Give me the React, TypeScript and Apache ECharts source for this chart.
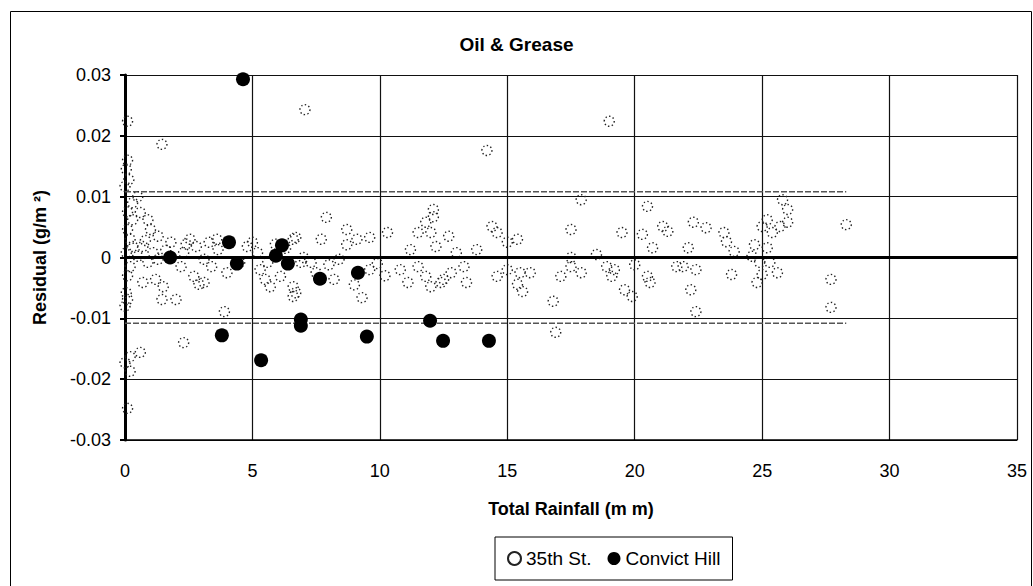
import React, { useEffect, useRef } from "react";
import * as echarts from "echarts";

const xTicks = [0, 5, 10, 15, 20, 25, 30, 35];
const yTickLabels = ["-0.03", "-0.02", "-0.01", "0", "0.01", "0.02", "0.03"];

const st35: [number, number][] = [
  [0.1, 0.0224], [0.1, 0.016], [0.05, 0.0145], [0.15, 0.0128], [0.0, 0.0117], [0.3, 0.009], [0.5, 0.01],
  [0.1, 0.0075], [0.3, 0.0062], [0.1, 0.0046], [0.2, 0.003], [0.3, 0.0018], [0.05, 0.0008], [0.2, -0.0015],
  [0.1, -0.003], [0.05, -0.0058], [0.1, -0.0069], [0.0, -0.008], [0.2, -0.0163], [0.6, -0.0156], [0.0, -0.0173],
  [0.2, -0.0187], [0.1, -0.0248],
  [0.6, 0.0074], [0.9, 0.0062], [1.0, 0.0046], [1.3, 0.0035], [0.7, 0.0018], [1.1, 0.0008], [0.5, 0.0002],
  [0.9, -0.0008], [1.3, -0.0003], [0.7, -0.0041], [1.5, -0.0048], [1.45, -0.0069], [2.0, -0.0069], [1.45, 0.0186],
  [1.2, -0.0036], [0.8, 0.0028], [1.6, 0.0012], [1.8, 0.0025],
  [2.55, 0.003], [2.3, 0.0008], [2.2, -0.0015], [2.8, 0.0018], [3.1, -0.0003], [2.7, -0.0031], [3.1, -0.0041],
  [3.3, 0.0025], [3.6, 0.003], [3.65, 0.0013], [2.9, -0.0044], [2.3, -0.014], [3.9, -0.0089], [4.0, -0.0025],
  [3.4, -0.0015], [2.4, 0.0022],
  [4.5, -0.0008], [4.8, 0.0018], [5.2, 0.0008], [5.6, -0.0008], [5.7, -0.0048], [6.1, -0.0031], [6.6, 0.003],
  [6.9, -0.0008], [6.6, -0.0048], [6.7, -0.0058], [5.5, -0.0036], [6.6, -0.0064], [5.0, 0.0025], [5.3, -0.002],
  [6.3, 0.0015], [6.7, 0.0033], [7.0, 0.0], [7.06, 0.0243], [5.9, 0.0022],
  [7.3, -0.0008], [7.7, 0.003], [7.9, 0.0066], [8.0, -0.0012], [8.2, -0.0036], [8.4, -0.0003], [8.7, 0.0046],
  [8.7, 0.0021], [9.1, 0.003], [9.3, -0.0066], [9.6, 0.0033], [9.6, -0.002], [10.3, 0.0041], [7.5, -0.0025],
  [9.0, -0.0045], [9.9, -0.001], [10.2, -0.003],
  [10.8, -0.002], [11.1, -0.0041], [11.2, 0.0013], [11.5, 0.0041], [11.8, 0.0058], [11.8, -0.0031], [12.0, -0.0048],
  [12.0, 0.0041], [12.1, 0.0067], [12.1, 0.0079], [12.2, 0.0018], [12.4, -0.0041], [12.5, -0.0036], [12.7, 0.0035],
  [13.0, 0.0008], [13.3, -0.0015], [13.4, -0.0041], [13.8, 0.0013], [14.2, 0.0176], [14.4, 0.0051], [14.6, 0.0041],
  [14.6, -0.0031], [15.0, 0.0025], [11.5, -0.0015], [12.8, -0.0025],
  [15.4, 0.003], [15.0, -0.002], [15.4, -0.0044], [15.5, -0.0025], [15.6, -0.0056], [15.9, -0.0025], [16.8, -0.0072],
  [16.9, -0.0123], [17.1, -0.0031], [17.5, 0.0046], [17.5, 0.0], [17.5, -0.0015], [17.9, 0.0095], [17.9, -0.0025],
  [18.5, 0.0005], [18.9, -0.0015], [19.0, 0.0224], [19.1, -0.0031], [19.2, -0.002], [19.5, 0.0041], [19.6, -0.0053],
  [19.9, -0.0064], [20.0, -0.0012],
  [20.3, 0.0038], [20.5, 0.0084], [20.5, -0.0031], [20.6, -0.0041], [20.7, 0.0016], [21.1, 0.0051], [21.3, 0.0043],
  [21.65, -0.0015], [21.9, -0.0015], [22.1, 0.0016], [22.2, -0.0053], [22.3, 0.0058], [22.4, -0.0089], [22.4, -0.002],
  [22.8, 0.0049], [23.5, 0.0041], [23.6, 0.0026], [23.8, -0.0028], [23.9, 0.001], [24.6, 0.0002], [24.7, 0.0021],
  [24.8, -0.0041], [24.9, -0.0008], [25.0, 0.0051], [25.0, -0.0028], [25.2, 0.0062], [25.2, 0.0016], [25.3, -0.0008],
  [25.4, 0.0041], [25.6, -0.0025], [25.7, 0.0051], [25.8, 0.0095], [26.0, 0.0079], [26.0, 0.0058], [27.7, -0.0036],
  [27.7, -0.0082], [28.3, 0.0054],
];

const convictHill: [number, number][] = [
  [1.77, 0.0], [3.8, -0.0128], [4.08, 0.0025], [4.39, -0.001], [4.63, 0.0293], [5.34, -0.0169], [5.92, 0.0003],
  [6.16, 0.002], [6.39, -0.001], [6.9, -0.0102], [6.9, -0.0112], [7.65, -0.0035], [9.14, -0.0025], [9.49, -0.013],
  [11.97, -0.0104], [12.48, -0.0137], [14.28, -0.0137],
];

const boundX = [0, 28.3];
const boundValue = 0.0108;

const FONT = "'Liberation Sans', Arial, sans-serif";

export default function App() {
  const ref = useRef<HTMLDivElement>(null);
  useEffect(() => {
    if (!ref.current) return;
    const chart = echarts.init(ref.current, null, { renderer: "svg" });
    chart.setOption({
      animation: false,
      backgroundColor: "#fff",
      textStyle: { fontFamily: FONT },
      title: {
        text: "Oil & Grease",
        left: "center",
        top: 35,
        padding: 0,
        textStyle: { fontFamily: FONT, fontSize: 19, fontWeight: "bold", color: "#000" },
      },
      graphic: [
        {
          type: "rect",
          left: 8,
          top: 9,
          shape: { width: 1021, height: 600 },
          style: { fill: "none", stroke: "#000", lineWidth: 1 },
          silent: true,
        },
      ],
      grid: { left: 125, right: 16, top: 75, bottom: 146 },
      legend: {
        left: 495,
        top: 537,
        padding: [12, 12],
        itemGap: 16,
        itemWidth: 13,
        itemHeight: 13,
        borderColor: "#000",
        borderWidth: 1,
        textStyle: { fontFamily: FONT, fontSize: 19, color: "#000" },
        data: ["35th St.", "Convict Hill"],
      },
      xAxis: {
        type: "value",
        min: 0,
        max: 35,
        interval: 5,
        name: "Total Rainfall (m m)",
        nameLocation: "middle",
        nameGap: 60,
        nameTextStyle: { fontFamily: FONT, fontSize: 18, fontWeight: "bold", color: "#000" },
        axisLine: { onZero: false, show: true, lineStyle: { color: "#000", width: 1.5 } },
        axisTick: { show: false },
        axisLabel: {
          margin: 22,
          fontSize: 18,
          color: "#000",
          fontFamily: FONT,
          formatter: (v: number) => (xTicks.indexOf(v) >= 0 ? String(v) : ""),
        },
        splitLine: { show: true, lineStyle: { color: "#111", width: 1.2 } },
      },
      yAxis: {
        type: "value",
        min: -0.03,
        max: 0.03,
        interval: 0.01,
        name: "Residual (g/m ²)",
        nameLocation: "middle",
        nameGap: 76,
        nameRotate: 90,
        nameTextStyle: { fontFamily: FONT, fontSize: 18, fontWeight: "bold", color: "#000" },
        axisLine: { onZero: false, show: true, lineStyle: { color: "#000", width: 3 } },
        axisTick: { show: true, inside: false, length: 5, lineStyle: { color: "#000", width: 2 } },
        axisLabel: {
          margin: 14,
          fontSize: 18,
          color: "#000",
          fontFamily: FONT,
          formatter: (v: number) => {
            const i = Math.round(v * 100) + 3;
            return yTickLabels[i] ?? "";
          },
        },
        splitLine: { show: true, lineStyle: { color: "#111", width: 1.2 } },
      },
      series: [
        {
          name: "upper",
          type: "line",
          data: boundX.map((x) => [x, boundValue]),
          symbol: "none",
          silent: true,
          lineStyle: { color: "#555", width: 1.5, type: [6, 2] },
          z: 1,
        },
        {
          name: "lower",
          type: "line",
          data: boundX.map((x) => [x, -boundValue]),
          symbol: "none",
          silent: true,
          lineStyle: { color: "#555", width: 1.5, type: [6, 2] },
          z: 1,
        },
        {
          name: "35th St.",
          type: "scatter",
          data: st35,
          symbol: "circle",
          symbolSize: 10,
          itemStyle: {
            color: "rgba(255,255,255,0)",
            borderColor: "#222",
            borderWidth: 1.4,
            borderType: [1.4, 2.4],
            opacity: 1,
          },
          markLine: {
            silent: true,
            symbol: "none",
            label: { show: false },
            lineStyle: { color: "#000", width: 3, type: "solid" },
            data: [{ yAxis: 0 }],
          },
          z: 3,
        },
        {
          name: "Convict Hill",
          type: "scatter",
          data: convictHill,
          symbol: "circle",
          symbolSize: 14,
          itemStyle: { color: "#000", opacity: 1 },
          z: 4,
        },
      ],
    });
    return () => chart.dispose();
  }, []);
  return (
    <div
      ref={ref}
      style={{ position: "absolute", left: 0, top: 0, width: 1033, height: 586 }}
    />
  );
}
